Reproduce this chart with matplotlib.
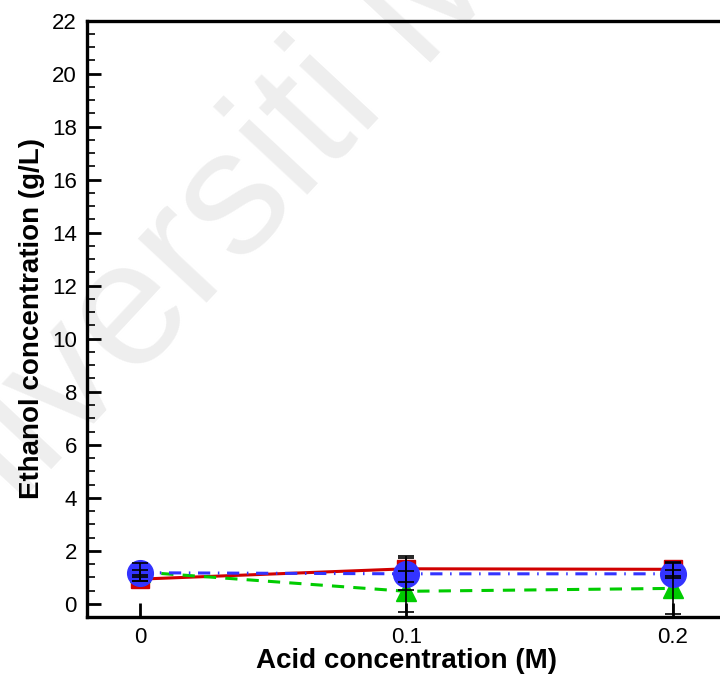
import matplotlib
matplotlib.use("Agg")
import matplotlib.pyplot as plt
from matplotlib.ticker import MultipleLocator

plt.rcParams['font.family'] = ['Liberation Sans', 'DejaVu Sans']

# data
acid = [0.0, 0.1, 0.2]

red_vals = [0.93, 1.32, 1.30]
red_err = [0.07, 0.50, 0.27]

green_vals = [1.20, 0.47, 0.58]
green_err = [0.35, 0.78, 0.96]

blue_vals = [1.17, 1.13, 1.13]
blue_err = [0.10, 0.60, 0.15]

yticks = [0, 2, 4, 6, 8, 10, 12, 14, 16, 18, 20, 22]
xticks = [0, 0.1, 0.2]
xticklabels = ['0', '0.1', '0.2']

fig = plt.figure(figsize=(7.2, 6.75), dpi=100)

# faint watermark behind everything
fig.text(-0.154, 0.046, 'Universiti Malaya', fontsize=128, color='#eeeeee',
         rotation=47, rotation_mode='anchor', ha='left', va='baseline', zorder=0)

ax = fig.add_axes([0.1204, 0.0859, 0.8876, 0.8834])
ax.set_zorder(1)
ax.patch.set_alpha(0)

# lines with markers
ax.plot(acid, red_vals, color='#d00000', linestyle='-', linewidth=2.2,
        marker='s', markersize=13.5, zorder=3)
ax.plot(acid, green_vals, color='#00cc00', linestyle=(0, (4, 3)), linewidth=2.2,
        marker='^', markersize=15, zorder=4)
ax.plot(acid, blue_vals, color='#3333ff', linestyle=(0, (4, 2.5, 0.5, 2.5)), linewidth=2.2,
        marker='o', markersize=18.5, zorder=5)

# error bars on top
for vals, err in [(red_vals, red_err), (green_vals, green_err), (blue_vals, blue_err)]:
    ax.errorbar(acid, vals, yerr=err, fmt='none', ecolor='black',
                elinewidth=1.2, capsize=6, capthick=1.2, zorder=6)

ax.set_xlim(-0.02, 0.22)
ax.set_ylim(-0.5, 22)

ax.set_xticks(xticks)
ax.set_xticklabels(xticklabels)
ax.set_yticks(yticks)
ax.yaxis.set_minor_locator(MultipleLocator(0.5))

ax.tick_params(axis='both', which='major', direction='in', length=10, width=2,
               labelsize=16, pad=7)
ax.tick_params(axis='y', which='minor', direction='in', length=5.5, width=1.2)
ax.tick_params(top=False, right=False)

for side in ['left', 'bottom', 'top', 'right']:
    ax.spines[side].set_linewidth(2.4)

ax.set_xlabel('Acid concentration (M)', fontsize=20, fontweight='bold', labelpad=0)
ax.set_ylabel('Ethanol concentration (g/L)', fontsize=20, fontweight='bold', labelpad=5)

fig.savefig('out.png', dpi=100)
